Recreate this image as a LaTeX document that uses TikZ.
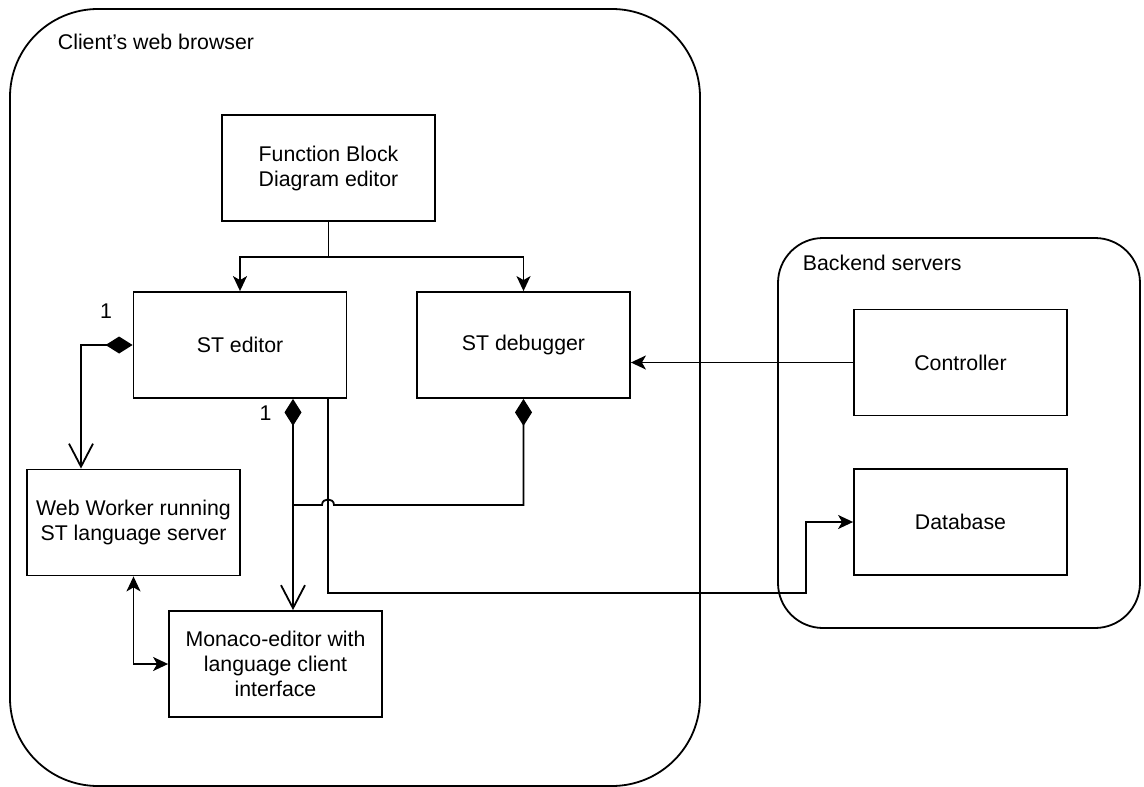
\documentclass[tikz,border=0pt]{standalone}
\usepackage{fontspec}
\setmainfont{Liberation Sans}
\usetikzlibrary{arrows.meta}
\newcommand\diagfont{\fontsize{21.3}{25}\selectfont}
\begin{document}
\begin{tikzpicture}[x=1pt,y=-1pt,line width=1.8pt,
  container/.style={draw,inner sep=0pt},
  box/.style={draw,minimum width=213pt,minimum height=106pt,inner sep=0pt,align=center,font=\diagfont},
  lbl/.style={inner sep=0pt,font=\diagfont},
  flow/.style={-{Stealth[length=15pt,width=14pt,inset=4pt]}},
  both/.style={{Stealth[length=15pt,width=14pt,inset=4pt]}-{Stealth[length=15pt,width=14pt,inset=4pt]}},
  owns/.style={{Diamond[length=27pt,width=17pt]}-{Straight Barb[length=23pt,width=24pt]}},
  ownsonly/.style={{Diamond[length=27pt,width=17pt]}-}]
\useasboundingbox (0,0) rectangle (1144,787);

% containers
\node[container,minimum width=690pt,minimum height=777pt,rounded corners=88pt] (client) at (355,397.5) {};
\node[lbl,anchor=base west] (clienttitle) at (57,49) {Client's web browser};
\node[container,minimum width=362pt,minimum height=390pt,rounded corners=45pt] (backend) at (959,433) {};
\node[lbl,anchor=base west] (backendtitle) at (802,270) {Backend servers};

% blocks
\node[box] (fbd) at (328.5,168) {Function Block\\Diagram editor};
\node[box] (ste) at (240,345) {ST editor};
\node[box] (dbg) at (523.5,345) {ST debugger};
\node[box] (ww) at (133.5,522.5) {Web Worker running\\ST language server};
\node[box] (mon) at (275.5,664) {Monaco-editor with\\language client\\interface};
\node[box] (ctl) at (960.5,362.5) {Controller};
\node[box] (db) at (960.5,522) {Database};

% multiplicities
\node[lbl,anchor=base] (m1) at (106,318) {1};
\node[lbl,anchor=base] (m2) at (265.5,420) {1};

% connectors
\draw[flow] (fbd.south) -- ++(0,35) -| (ste.north);
\draw[flow] (fbd.south) -- ++(0,35) -| (dbg.north);
\draw[owns] (ste.west) -| ([xshift=-52.5pt]ww.north);
\draw[owns] ([xshift=53pt]ste.south) -- ([xshift=53pt]ste.south |- mon.north);
\coordinate (join) at (293,505);
\draw[ownsonly] (dbg.south) |- (334,505)
  .. controls (334,497.5) and (322,497.5) .. (322,505) -- (join);
\draw[flow] ([xshift=88pt]ste.south) |- (806,593) |- (db.west);
\draw[flow] (ctl.west) -- (ctl.west -| dbg.east);
\draw[both] (ww.south) |- (mon.west);
\end{tikzpicture}
\end{document}
